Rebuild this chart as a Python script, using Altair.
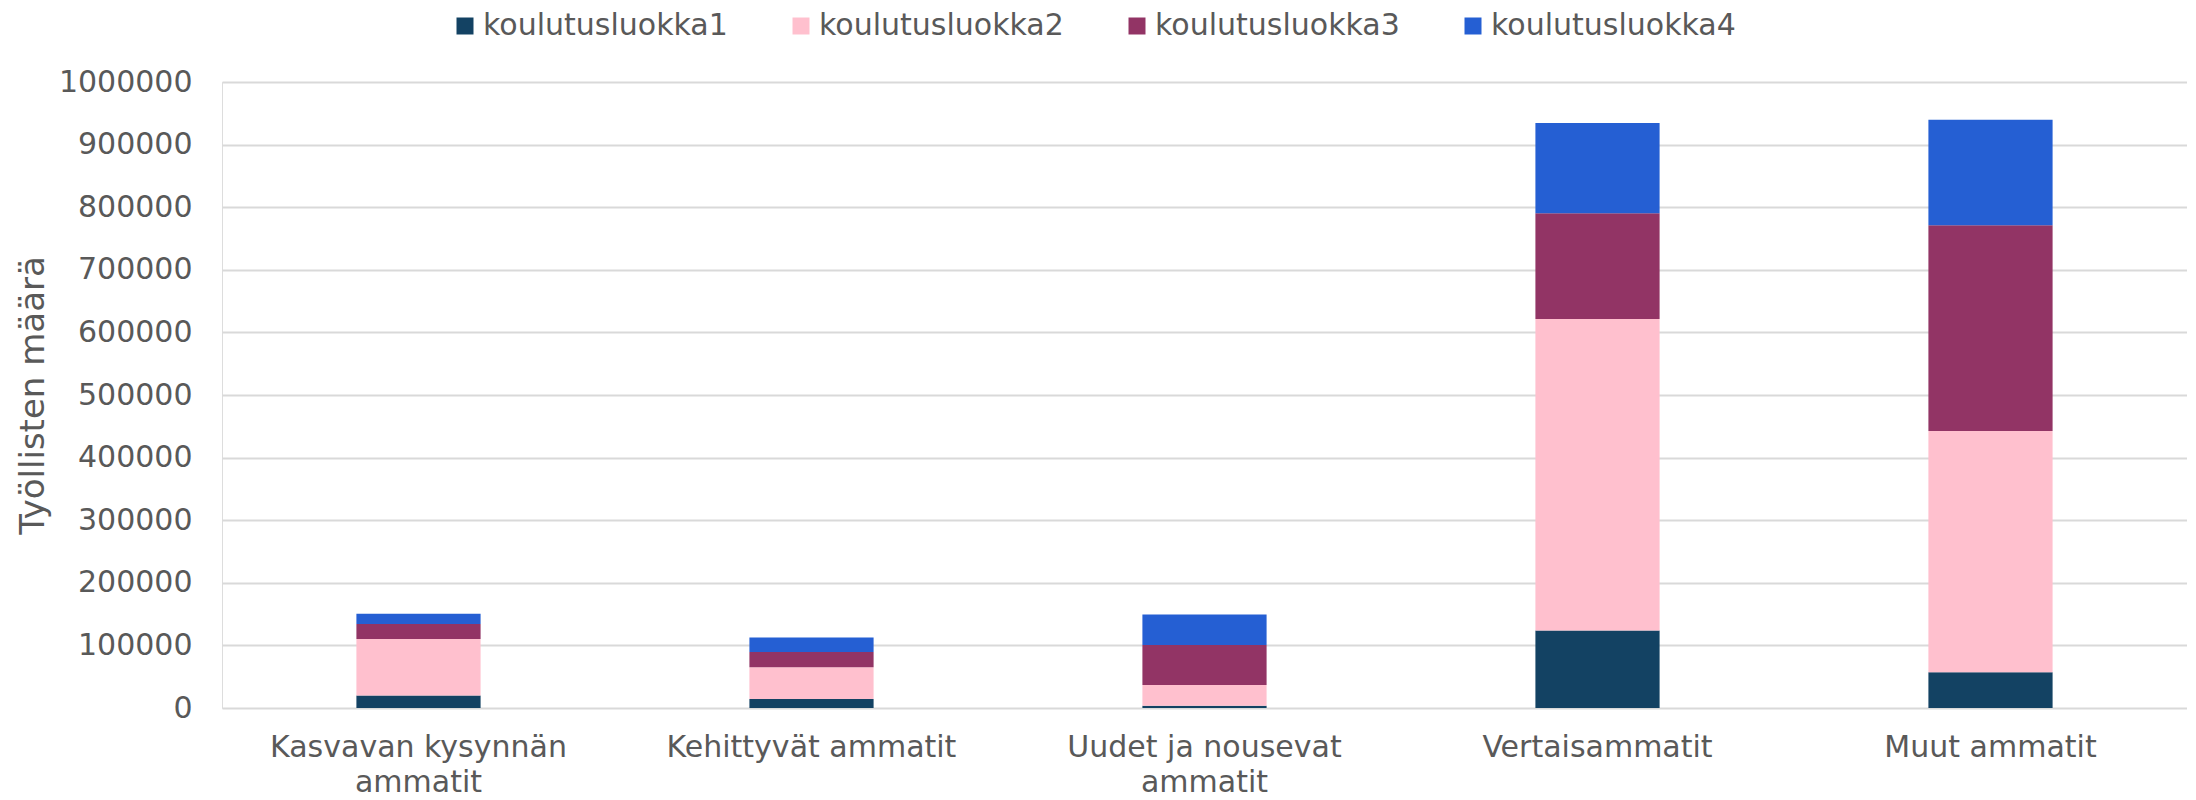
import altair as alt
import pandas as pd

categories = ["Kasvavan kysynnän ammatit", "Kehittyvät ammatit", "Uudet ja nousevat ammatit",
              "Vertaisammatit", "Muut ammatit"]
series = ["koulutusluokka1", "koulutusluokka2", "koulutusluokka3", "koulutusluokka4"]
k1 = [19800, 14400, 3700, 124000, 57000]
k2 = [90400, 50700, 33100, 497400, 385600]
k3 = [24000, 24500, 64000, 169000, 328700]
k4 = [16400, 22900, 48500, 144100, 168200]
colors = ["#134263", "#FFC0CE", "#923465", "#255FD3"]
y_ticks = [0, 100000, 200000, 300000, 400000, 500000, 600000, 700000, 800000, 900000, 1000000]

rows = []
for si, (name, vals) in enumerate(zip(series, [k1, k2, k3, k4])):
    for cat, v in zip(categories, vals):
        rows.append({"ammatti": cat, "luokka": name, "arvo": v, "jarj": si})
df = pd.DataFrame(rows)

FONT = "DejaVu Sans"
GREY = "#595959"

chart = alt.Chart(df).mark_bar().encode(
    x=alt.X("ammatti:N", sort=categories,
            scale=alt.Scale(paddingInner=0.684, paddingOuter=0.342),
            axis=alt.Axis(title=None, labelAngle=0, ticks=False, domain=False,
                          labelPadding=24, labelFontSize=30, labelColor=GREY, labelFont=FONT,
                          labelLineHeight=35, labelLimit=600,
                          labelExpr="length(datum.value) > 20 ? [slice(datum.value, 0, lastindexof(datum.value, ' ')), slice(datum.value, lastindexof(datum.value, ' ') + 1)] : datum.value")),
    y=alt.Y("arvo:Q", stack="zero",
            scale=alt.Scale(domain=[0, 1000000], nice=False),
            axis=alt.Axis(title="Työllisten määrä", values=y_ticks, format="d",
                          ticks=False, domain=False, labelPadding=30,
                          labelFontSize=30, labelColor=GREY, labelFont=FONT,
                          gridColor="#D9D9D9", gridWidth=2,
                          titleFontSize=34, titleColor=GREY, titleFont=FONT, titleFontWeight="normal",
                          titleAngle=270, titleBaseline="alphabetic", titleAlign="center",
                          titleX=-179, titleY=313)),
    color=alt.Color("luokka:N", sort=series,
                    scale=alt.Scale(domain=series, range=colors),
                    legend=alt.Legend(title=None, orient="none", direction="horizontal",
                                      legendX=228, legendY=-71,
                                      symbolType="square", symbolSize=289, symbolStrokeWidth=0,
                                      labelFontSize=30, labelColor=GREY, labelFont=FONT,
                                      labelOffset=3, columnPadding=58, labelLimit=400)),
    order=alt.Order("jarj:Q", sort="ascending"),
).properties(
    width=1965, height=626,
    padding={"left": 214, "top": 74, "right": 0, "bottom": 90},
    autosize=alt.AutoSizeParams(type="none"),
).configure_view(stroke=None).configure(font=FONT)

chart.save("out.html", embed_options={"renderer": "svg", "actions": False})
